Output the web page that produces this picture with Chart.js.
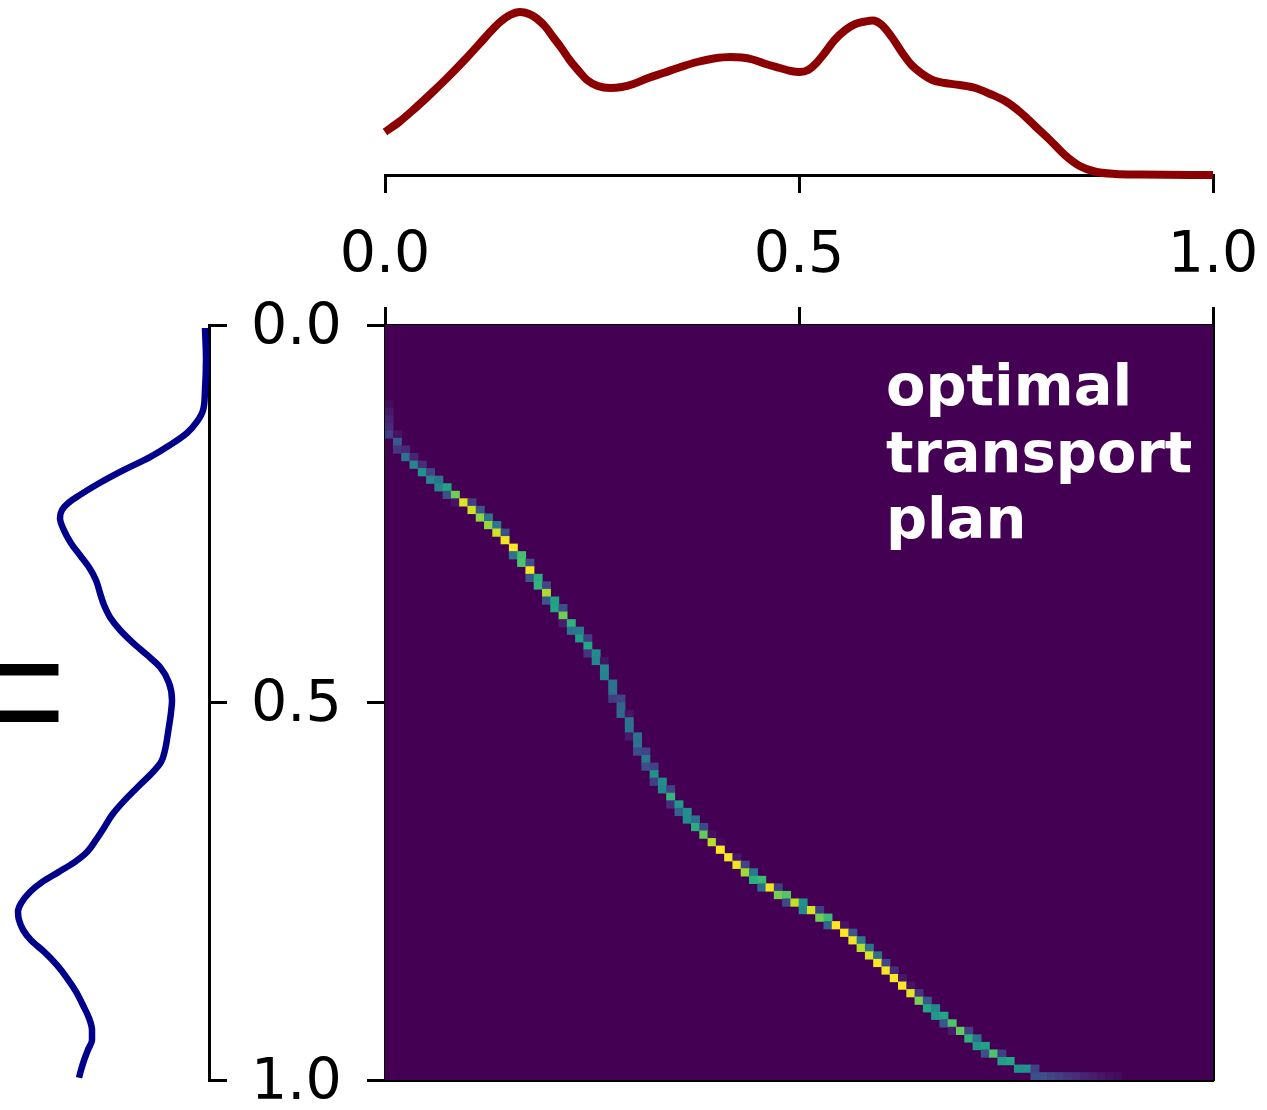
<!DOCTYPE html>
<html>
<head>
<meta charset="utf-8">
<title>optimal transport plan</title>
<script src="https://cdn.jsdelivr.net/npm/chart.js@4.4.1/dist/chart.umd.min.js"></script>
<style>
    html, body { margin: 0; padding: 0; background: #fff; }
    #stage { position: relative; width: 1267px; height: 1110px; overflow: hidden; }
    #stage canvas { position: absolute; left: 0; top: 0; }
    #equals {
        position: absolute; left: -60px; top: 578px;
        font-family: 'Liberation Serif', serif; font-size: 230px; line-height: 1;
        color: #000;
    }
</style>
</head>
<body>
<div id="stage">
    <div id="equals">=</div>
    <canvas id="targetChart" width="1267" height="1200"></canvas>
    <canvas id="sourceChart" width="1300" height="300"></canvas>
    <canvas id="planChart" width="1267" height="1110"></canvas>
</div>
<script>
// shared axis ticks
const axisTicks = [0, 0.5, 1];
const tickLabels = ['0.0', '0.5', '1.0'];

// source distribution (red, top)
const sourcePos = [0, 0.017, 0.034, 0.055, 0.075, 0.095, 0.115, 0.128, 0.139, 0.151, 0.163, 0.174,
    0.184, 0.194, 0.203, 0.213, 0.223, 0.234, 0.244, 0.257, 0.272, 0.286, 0.300, 0.318, 0.336,
    0.357, 0.377, 0.397, 0.417, 0.431, 0.444, 0.460, 0.477, 0.490, 0.501, 0.511, 0.521, 0.531,
    0.543, 0.556, 0.568, 0.580, 0.589, 0.600, 0.612, 0.624, 0.636, 0.649, 0.661, 0.676, 0.694,
    0.713, 0.731, 0.749, 0.767, 0.785, 0.803, 0.821, 0.839, 0.857, 0.882, 0.912, 1.0];
const sourceDensity = [0.43, 0.53, 0.65, 0.81, 0.97, 1.14, 1.32, 1.44, 1.53, 1.60, 1.63, 1.61,
    1.56, 1.48, 1.38, 1.27, 1.15, 1.04, 0.95, 0.89, 0.87, 0.88, 0.91, 0.97, 1.02,
    1.08, 1.13, 1.165, 1.18, 1.175, 1.155, 1.11, 1.07, 1.04, 1.03, 1.05, 1.12, 1.22,
    1.35, 1.45, 1.51, 1.535, 1.545, 1.50, 1.38, 1.23, 1.10, 1.01, 0.95, 0.92, 0.90,
    0.87, 0.81, 0.74, 0.63, 0.49, 0.35, 0.20, 0.09, 0.035, 0.01, 0.004, 0];

// target distribution (blue, left)
const targetPos = [0.004, 0.046, 0.086, 0.113, 0.128, 0.143, 0.159, 0.175, 0.192, 0.209, 0.225,
    0.236, 0.245, 0.256, 0.272, 0.289, 0.305, 0.321, 0.338, 0.355, 0.371, 0.387, 0.404, 0.421,
    0.437, 0.453, 0.474, 0.497, 0.513, 0.540, 0.563, 0.579, 0.592, 0.609, 0.629, 0.649, 0.666,
    0.682, 0.698, 0.711, 0.725, 0.738, 0.751, 0.766, 0.777, 0.788, 0.801, 0.815, 0.830, 0.848,
    0.865, 0.883, 0.901, 0.918, 0.934, 0.947, 0.960, 0.974, 0.987, 0.997];
const targetDensity = [0.04, 0.03, 0.04, 0.06, 0.12, 0.22, 0.39, 0.59, 0.85, 1.09, 1.29,
    1.41, 1.47, 1.49, 1.45, 1.38, 1.29, 1.20, 1.13, 1.09, 1.05, 0.99, 0.89, 0.76,
    0.62, 0.49, 0.40, 0.37, 0.38, 0.41, 0.44, 0.48, 0.56, 0.69, 0.84, 0.97, 1.05,
    1.13, 1.22, 1.34, 1.51, 1.67, 1.79, 1.88, 1.91, 1.90, 1.86, 1.78, 1.65, 1.52,
    1.42, 1.33, 1.26, 1.20, 1.17, 1.17, 1.21, 1.25, 1.28, 1.30];

// transport plan cells (100 x 100 grid): row, column, relative mass
const gridSize = 100;
const planRow = [10, 11, 12, 13, 14, 14, 15, 16, 16, 17, 17, 18, 18, 19, 19, 20, 20, 21, 21, 22,
    22, 23, 23, 23, 24, 24, 25, 25, 26, 26, 27, 27, 28, 29, 30, 30, 31, 31, 32, 33,
    33, 34, 34, 35, 36, 36, 37, 37, 38, 39, 39, 40, 40, 41, 41, 42, 43, 43, 44, 44,
    45, 46, 47, 48, 49, 49, 50, 51, 51, 52, 53, 54, 54, 55, 56, 56, 57, 58, 58, 59,
    60, 60, 61, 61, 62, 63, 63, 64, 64, 65, 65, 66, 66, 67, 67, 68, 68, 69, 70, 70,
    71, 71, 72, 72, 73, 73, 74, 74, 74, 75, 75, 76, 76, 76, 77, 77, 77, 78, 78, 79,
    79, 79, 80, 80, 81, 81, 82, 82, 83, 83, 84, 84, 85, 85, 86, 86, 87, 87, 88, 88,
    89, 89, 90, 90, 91, 91, 92, 92, 93, 93, 93, 94, 94, 95, 95, 96, 96, 96, 97, 97,
    98, 98, 98, 99, 99, 99, 99, 99, 99, 99, 99, 99, 99, 99];
const planCol = [0, 0, 0, 0, 0, 1, 1, 1, 2, 2, 3, 3, 4, 4, 5, 5, 6, 6, 7, 7,
    8, 8, 9, 10, 10, 11, 11, 12, 12, 13, 13, 14, 14, 15, 15, 16, 16, 17, 17, 17,
    18, 18, 19, 19, 19, 20, 20, 21, 21, 21, 22, 22, 23, 23, 24, 24, 24, 25, 25, 26,
    26, 26, 27, 27, 27, 28, 28, 28, 29, 29, 29, 29, 30, 30, 30, 31, 31, 31, 32, 32,
    32, 33, 33, 34, 34, 34, 35, 35, 36, 36, 37, 37, 38, 38, 39, 39, 40, 40, 41, 42,
    42, 43, 43, 44, 44, 45, 45, 46, 47, 47, 48, 48, 49, 50, 50, 51, 52, 52, 53, 53,
    54, 55, 55, 56, 56, 57, 57, 58, 58, 59, 59, 60, 60, 61, 61, 62, 62, 63, 63, 64,
    64, 65, 65, 66, 66, 67, 67, 68, 68, 69, 70, 70, 71, 71, 72, 72, 73, 74, 74, 75,
    76, 77, 78, 78, 79, 80, 81, 82, 83, 84, 85, 86, 87, 88];
const planMass = [0.03, 0.06, 0.09, 0.12, 0.18, 0.05, 0.28, 0.15, 0.12, 0.38, 0.10, 0.45, 0.13, 0.50, 0.20, 0.45, 0.38, 0.45, 0.58, 0.24,
    0.78, 0.05, 0.95, 0.18, 0.93, 0.27, 0.83, 0.38, 0.84, 0.40, 0.93, 0.24, 0.98, 1.00, 0.38, 0.70, 0.72, 0.24, 0.99, 0.27,
    0.63, 0.65, 0.22, 0.87, 0.27, 0.57, 0.58, 0.24, 0.78, 0.08, 0.64, 0.38, 0.40, 0.55, 0.18, 0.60, 0.15, 0.48, 0.46, 0.05,
    0.45, 0.44, 0.37, 0.37, 0.18, 0.20, 0.32, 0.34, 0.05, 0.38, 0.38, 0.07, 0.37, 0.37, 0.23, 0.20, 0.40, 0.24, 0.19, 0.50,
    0.18, 0.48, 0.47, 0.20, 0.65, 0.13, 0.54, 0.30, 0.48, 0.48, 0.37, 0.62, 0.21, 0.76, 0.04, 0.89, 0.03, 1.00, 0.99, 0.06,
    0.98, 0.20, 0.86, 0.40, 0.63, 0.68, 0.35, 0.98, 0.18, 0.79, 0.73, 0.22, 0.90, 0.50, 0.47, 0.94, 0.18, 0.78, 0.68, 0.33,
    1.00, 0.05, 1.00, 0.27, 0.98, 0.40, 0.89, 0.38, 0.95, 0.37, 1.00, 0.22, 0.99, 0.13, 1.00, 0.06, 1.00, 0.05, 0.96, 0.15,
    0.80, 0.27, 0.59, 0.46, 0.53, 0.59, 0.27, 0.72, 0.07, 0.76, 0.19, 0.64, 0.37, 0.53, 0.58, 0.24, 0.72, 0.18, 0.55, 0.59,
    0.50, 0.50, 0.19, 0.24, 0.24, 0.20, 0.18, 0.15, 0.13, 0.10, 0.08, 0.06, 0.04, 0.03];

// viridis colour stops
const viridisStops = ['#440154', '#482475', '#414487', '#355f8d', '#2a788e', '#21918c',
    '#22a884', '#44bf70', '#7ad151', '#bddf26', '#fde725'];

function hexToRgb(hex) {
    const n = parseInt(hex.slice(1), 16);
    return [(n >> 16) & 255, (n >> 8) & 255, n & 255];
}

function viridis(v) {
    const t = Math.max(0, Math.min(1, v)) * (viridisStops.length - 1);
    const i = Math.min(Math.floor(t), viridisStops.length - 2);
    const f = t - i;
    const a = hexToRgb(viridisStops[i]);
    const b = hexToRgb(viridisStops[i + 1]);
    const c = a.map((x, k) => Math.round(x + (b[k] - x) * f));
    return `rgb(${c[0]}, ${c[1]}, ${c[2]})`;
}

Chart.defaults.font.family = "'DejaVu Sans', sans-serif";
Chart.defaults.font.size = 57;
Chart.defaults.color = '#000';
Chart.defaults.animation = false;
Chart.defaults.responsive = false;
Chart.defaults.events = [];
Chart.defaults.plugins.legend.display = false;
Chart.defaults.plugins.tooltip.enabled = false;

function setTicks(scale) {
    scale.ticks = axisTicks.map(v => ({ value: v }));
}

function tickText(value) {
    return tickLabels[axisTicks.indexOf(value)];
}

// fills the plot area like an image background
const planBackground = {
    id: 'planBackground',
    beforeDatasetsDraw(chart, args, opts) {
        const { ctx, chartArea: a } = chart;
        ctx.save();
        ctx.fillStyle = opts.color;
        ctx.fillRect(a.left, a.top, a.right - a.left, a.bottom - a.top);
        ctx.restore();
    }
};

// text placed in axes fractions
const cornerLabel = {
    id: 'cornerLabel',
    afterDatasetsDraw(chart, args, opts) {
        const { ctx, chartArea: a } = chart;
        ctx.save();
        ctx.font = opts.font;
        ctx.fillStyle = opts.color;
        ctx.textBaseline = 'alphabetic';
        opts.lines.forEach((line, i) => {
            ctx.fillText(line, a.left + opts.x * a.width, a.top + opts.y * a.height + i * opts.lineHeight);
        });
        ctx.restore();
    }
};

// top: source density
new Chart(document.getElementById('sourceChart'), {
    type: 'scatter',
    data: {
        datasets: [{
            data: sourcePos.map((x, i) => ({ x: x, y: sourceDensity[i] })),
            showLine: true,
            borderColor: '#8b0000',
            borderWidth: 8,
            pointRadius: 0,
            cubicInterpolationMode: 'monotone',
            clip: false
        }]
    },
    options: {
        layout: { padding: { left: 385, right: 87, top: 0, bottom: 0 } },
        scales: {
            x: {
                type: 'linear', position: 'bottom', min: 0, max: 1,
                afterBuildTicks: setTicks,
                afterFit: s => { s.height = 125; },
                border: { color: '#000', width: 3 },
                grid: { drawOnChartArea: false, color: '#000', lineWidth: 3, tickLength: 18 },
                ticks: { padding: 30, maxRotation: 0, callback: tickText }
            },
            y: { display: false, min: 0, max: 1.75 }
        }
    }
});

// left: target density, drawn sideways
new Chart(document.getElementById('targetChart'), {
    type: 'scatter',
    data: {
        datasets: [{
            data: targetPos.map((y, i) => ({ x: targetDensity[i], y: y })),
            indexAxis: 'y',
            showLine: true,
            borderColor: '#00008b',
            borderWidth: 6.5,
            pointRadius: 0,
            cubicInterpolationMode: 'monotone',
            clip: false
        }]
    },
    options: {
        layout: { padding: { left: 0, right: 1267 - 209 - 140, top: 325, bottom: 120 } },
        scales: {
            x: { display: false, type: 'linear', reverse: true, min: 0, max: 2.09 },
            y: {
                type: 'linear', position: 'right', reverse: true, min: 0, max: 1,
                afterBuildTicks: setTicks,
                afterFit: s => { s.width = 140; },
                border: { color: '#000', width: 3 },
                grid: { drawOnChartArea: false, color: '#000', lineWidth: 3, tickLength: 18 },
                ticks: { padding: 24, labelOffset: 4, callback: tickText }
            }
        }
    }
});

// main: transport plan as a grid of cells
new Chart(document.getElementById('planChart'), {
    type: 'bar',
    data: {
        datasets: [{
            data: planRow.map((r, i) => ({
                x: (planCol[i] + 0.5) / gridSize,
                y: [r / gridSize, (r + 1) / gridSize]
            })),
            backgroundColor: ctx => viridis(planMass[ctx.dataIndex]),
            borderWidth: 0,
            barPercentage: 1,
            categoryPercentage: 1
        }]
    },
    options: {
        layout: { padding: { left: 367, right: 54, top: 307, bottom: 30 } },
        scales: {
            x: {
                type: 'linear', position: 'top', min: 0, max: 1, offset: false, z: 1,
                afterBuildTicks: setTicks,
                border: { color: '#000', width: 3 },
                grid: { offset: false, drawOnChartArea: false, color: '#000', lineWidth: 3, tickLength: 18 },
                ticks: { display: false }
            },
            y: {
                type: 'linear', position: 'left', reverse: true, min: 0, max: 1, z: 1,
                afterBuildTicks: setTicks,
                border: { color: '#000', width: 3 },
                grid: { drawOnChartArea: false, color: '#000', lineWidth: 3, tickLength: 18 },
                ticks: { display: false }
            },
            x2: {
                type: 'linear', position: 'bottom', min: 0, max: 1, z: 1,
                border: { color: '#000', width: 3 },
                grid: { display: false, drawTicks: false },
                ticks: { display: false }
            },
            y2: {
                type: 'linear', position: 'right', min: 0, max: 1, z: 1,
                border: { color: '#000', width: 3 },
                grid: { display: false, drawTicks: false },
                ticks: { display: false }
            }
        },
        plugins: {
            planBackground: { color: '#440154' },
            cornerLabel: {
                lines: ['optimal', 'transport', 'plan'],
                x: 0.605, y: 0.106, lineHeight: 66.5,
                font: "bold 57.5px 'DejaVu Sans', sans-serif",
                color: '#ffffff'
            }
        }
    },
    plugins: [planBackground, cornerLabel]
});
</script>
</body>
</html>
